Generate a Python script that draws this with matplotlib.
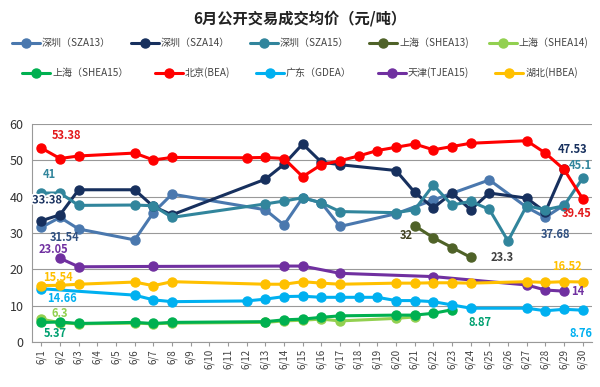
import matplotlib
matplotlib.use("Agg")
import matplotlib.pyplot as plt
import matplotlib.patheffects as pe
import numpy as np

plt.rcParams['font.family'] = ['Noto Sans CJK SC', 'DejaVu Sans']

days = [f"6/{d}" for d in range(1, 31)]

def series(d):
    arr = [None] * 30
    for k, v in d.items():
        arr[k - 1] = v
    return arr

SZA13 = series({1: 31.54, 2: 34.3, 3: 31.1, 6: 28.1, 7: 35.6, 8: 40.7, 13: 36.4, 14: 32.2, 15: 39.7,
                16: 38.3, 17: 31.8, 20: 35.3, 22: 39.1, 25: 44.6, 27: 37.1, 28: 34.3, 29: 37.68})
SZA14 = series({1: 33.38, 2: 35.0, 3: 41.9, 6: 41.9, 7: 37.3, 8: 35.0, 13: 44.8, 14: 48.9, 15: 54.5,
                16: 49.5, 17: 48.8, 20: 47.2, 21: 41.2, 22: 36.9, 23: 41.0, 24: 36.4, 25: 41.0,
                27: 39.6, 28: 35.8, 29: 47.53})
SZA15 = series({1: 41.0, 2: 41.0, 3: 37.6, 6: 37.7, 7: 37.5, 8: 34.3, 13: 38.0, 14: 38.8, 15: 39.7,
                16: 38.3, 17: 35.9, 20: 35.6, 21: 36.4, 22: 43.2, 23: 37.7, 24: 38.7, 25: 36.5,
                26: 27.8, 27: 37.5, 28: 36.4, 29: 37.5, 30: 45.1})
SHEA13 = series({21: 32.0, 22: 28.7, 23: 26.0, 24: 23.3})
SHEA14 = series({1: 6.3, 2: 5.3, 3: 5.0, 6: 5.2, 7: 5.0, 8: 5.2, 13: 5.4, 14: 5.8, 15: 6.0, 16: 6.3,
                 17: 5.8, 20: 6.5, 21: 6.9})
SHEA15 = series({1: 5.37, 2: 5.5, 3: 5.1, 6: 5.4, 7: 5.1, 8: 5.4, 13: 5.6, 14: 6.1, 15: 6.3, 16: 6.8,
                 17: 7.2, 20: 7.4, 21: 7.4, 22: 7.9, 23: 8.87})
BEA = series({1: 53.38, 2: 50.5, 3: 51.2, 6: 52.0, 7: 50.1, 8: 50.8, 12: 50.7, 13: 50.8, 14: 50.5,
              15: 45.5, 16: 48.8, 17: 49.9, 18: 51.2, 19: 52.7, 20: 53.6, 21: 54.5, 22: 52.9,
              23: 53.8, 24: 54.7, 27: 55.4, 28: 52.0, 29: 47.5, 30: 39.45})
GDEA = series({1: 14.66, 6: 12.9, 7: 11.6, 8: 11.1, 12: 11.3, 13: 11.8, 14: 12.5, 15: 12.6, 16: 12.3,
               17: 12.3, 18: 12.3, 19: 12.3, 20: 11.4, 21: 11.4, 22: 11.1, 23: 10.2, 24: 9.3,
               27: 9.3, 28: 8.6, 29: 9.0, 30: 8.76})
TJEA15 = series({2: 23.05, 3: 20.7, 7: 20.8, 14: 20.9, 15: 20.9, 17: 18.9, 22: 18.0, 27: 15.7,
                 28: 14.3, 29: 14.0})
HBEA = series({1: 15.54, 2: 15.6, 3: 15.9, 6: 16.5, 7: 15.5, 8: 16.6, 13: 15.9, 14: 15.9, 15: 16.6,
               16: 16.2, 17: 15.9, 20: 16.2, 21: 16.2, 22: 16.3, 23: 16.3, 24: 16.2, 27: 16.6,
               28: 16.4, 29: 16.6, 30: 16.52})

names = ['深圳（SZA13）', '深圳（SZA14）', '深圳（SZA15）', '上海（SHEA13)', '上海（SHEA14)',
         '上海（SHEA15）', '北京(BEA)', '广东（GDEA）', '天津(TJEA15)', '湖北(HBEA)']
data = [SZA13, SZA14, SZA15, SHEA13, SHEA14, SHEA15, BEA, GDEA, TJEA15, HBEA]
colors = ['#4A78AE', '#17305E', '#31859C', '#4F6228', '#92D050',
          '#00B050', '#FF0000', '#00B0F0', '#7030A0', '#FFC000']

fig = plt.figure(figsize=(6, 3.87), dpi=100)
ax = fig.add_axes([32/600, 1 - 342/387, 560/600, 218/387])

handles = []
for name, vals, c in zip(names, data, colors):
    xs = [i for i, v in enumerate(vals) if v is not None]
    ys = [v for v in vals if v is not None]
    h, = ax.plot(xs, ys, color=c, lw=2.2, marker='o', ms=6.5, mec=c, mfc=c, label=name,
                 solid_capstyle='round')
    handles.append(h)

ax.set_xlim(-0.5, 29.5)
ax.set_ylim(0, 60)
ax.set_yticks(range(0, 61, 10))
ax.set_xticks(range(30))
ax.set_xticklabels(days, rotation=90, fontsize=7, color='#404040')
ax.tick_params(axis='y', labelsize=9, length=0, colors='#333333', pad=6)
ax.tick_params(axis='x', length=3, color='#999999', pad=2)
ax.grid(axis='y', color='#999999', lw=0.8)
ax.set_axisbelow(True)
for s in ['top', 'right']:
    ax.spines[s].set_visible(False)
ax.spines['left'].set_color('#999999')
ax.spines['bottom'].set_color('#999999')

fig.text(0.5, 1 - 18/387, '6月公开交易成交均价（元/吨）', ha='center', va='center',
         fontsize=11, fontweight='bold', color='#222222')

fig.legend(handles[:5], names[:5], loc='center', bbox_to_anchor=(0.5, 1 - 43/387), ncol=5,
           frameon=False, fontsize=7.2, handlelength=2.8, columnspacing=2.0, handletextpad=0.2,
           labelcolor='#444444')
fig.legend(handles[5:], names[5:], loc='center', bbox_to_anchor=(0.5, 1 - 73/387), ncol=5,
           frameon=False, fontsize=7.2, handlelength=2.8, columnspacing=2.6, handletextpad=0.2,
           labelcolor='#444444')

def lab(day, val, text, color, dx=0, dy=0, halo=False):
    kw = dict(fontsize=8, fontweight='bold', color=color, ha='center', va='center')
    if halo:
        kw['path_effects'] = [pe.withStroke(linewidth=2.5, foreground='white')]
    ax.annotate(text, (day - 1, val), xytext=(dx, dy), textcoords='offset points', **kw)

lab(1, 53.38, '53.38', '#E31A1C', 18, 9)
lab(1, 41.0, '41', '#31859C', 6, 13)
lab(1, 33.38, '33.38', '#17305E', 4, 15, halo=True)
lab(1, 31.54, '31.54', '#2F4F80', 17, -7)
lab(2, 23.05, '23.05', '#7030A0', -5, 6)
lab(1, 15.54, '15.54', '#FFC000', 12, 6)
lab(1, 14.66, '14.66', '#00B0F0', 15, -7)
lab(1, 6.3, '6.3', '#92D050', 13, 4)
lab(1, 5.37, '5.37', '#00A070', 10, -8)
lab(21, 32.0, '32', '#404020', -6, -7)
lab(24, 23.3, '23.3', '#404040', 23, 0)
lab(29, 47.53, '47.53', '#17305E', 6, 14)
lab(30, 45.1, '45.1', '#31859C', -2, 9)
lab(30, 39.45, '39.45', '#E31A1C', -4, -11)
lab(28, 34.3, '37.68', '#2F4F80', 7, -12)
lab(30, 16.52, '16.52', '#FFC000', -11, 11)
lab(29, 14.0, '14', '#7030A0', 10, 0)
lab(23, 8.87, '8.87', '#00A070', 20, -9)
lab(30, 8.76, '8.76', '#00B0F0', -1, -17)

fig.savefig('out.png', dpi=100)
